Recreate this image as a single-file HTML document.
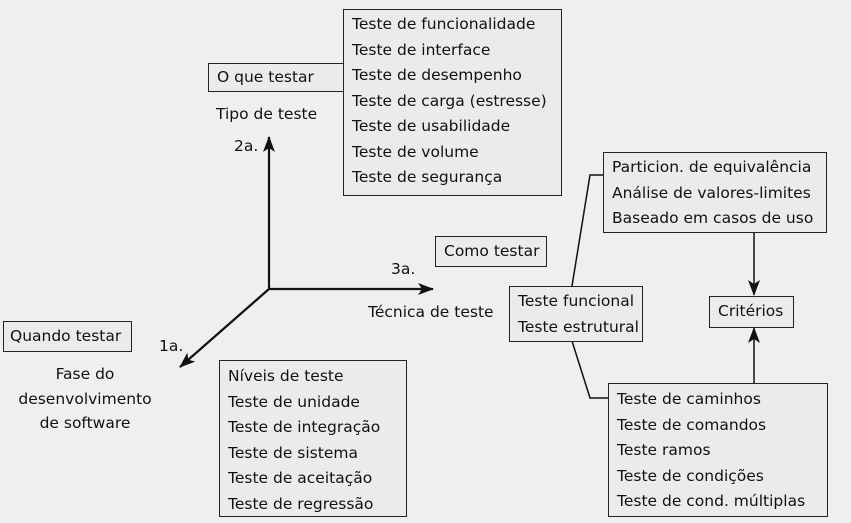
<!DOCTYPE html>
<html><head><meta charset="utf-8"><style>
body{margin:0;width:851px;height:523px;background:#efefef;overflow:hidden;position:relative;font-family:"DejaVu Sans","Liberation Sans",sans-serif;font-size:15.5px;color:#111}
.b{position:absolute;border:1.5px solid #222;background:#ebebeb;box-sizing:border-box;padding:0 0 0 8px;line-height:25.5px;white-space:nowrap}
.t{position:absolute;white-space:nowrap;line-height:24.5px}
</style></head><body>
<svg width="851" height="523" style="position:absolute;left:0;top:0">
<defs><marker id="a" markerWidth="16" markerHeight="12" refX="15" refY="6" orient="auto" markerUnits="userSpaceOnUse"><path d="M0,0 L16,6 L0,12 L4,6 Z" fill="#111"/></marker></defs>
<g stroke="#111" stroke-width="2.2" fill="none">
<line x1="269" y1="289" x2="269" y2="137" marker-end="url(#a)"/>
<line x1="269" y1="289" x2="433" y2="289" marker-end="url(#a)"/>
<line x1="269" y1="289" x2="180" y2="367" marker-end="url(#a)"/>
</g>
<g stroke="#111" stroke-width="1.5" fill="none">
<polyline points="572,286 590,175 603,175"/>
<polyline points="572,341 590,398 608,398"/>
<line x1="754" y1="232" x2="754" y2="295" marker-end="url(#a)"/>
<line x1="754" y1="383" x2="754" y2="328" marker-end="url(#a)"/>
</g>
</svg>
<div class="b" style="left:343px;top:9px;width:219px;height:187px;padding-top:2px">Teste de funcionalidade<br>Teste de interface<br>Teste de desempenho<br>Teste de carga (estresse)<br>Teste de usabilidade<br>Teste de volume<br>Teste de segurança</div>
<div class="b" style="left:208px;top:63px;width:136px;height:29px;line-height:26px">O que testar</div>
<div class="t" style="left:216px;top:102px">Tipo de teste</div>
<div class="t" style="left:234px;top:134px">2a.</div>
<div class="t" style="left:391px;top:257px">3a.</div>
<div class="t" style="left:368px;top:300px">Técnica de teste</div>
<div class="b" style="left:435px;top:236px;width:112px;height:31px;line-height:28px">Como testar</div>
<div class="t" style="left:159px;top:334px">1a.</div>
<div class="b" style="left:3px;top:321px;width:129px;height:31px;line-height:28px;padding-left:6px">Quando testar</div>
<div class="t" style="left:10px;top:362px;width:150px;text-align:center">Fase do<br>desenvolvimento<br>de software</div>
<div class="b" style="left:219px;top:360px;width:188px;height:157px;padding-top:3px">Níveis de teste<br>Teste de unidade<br>Teste de integração<br>Teste de sistema<br>Teste de aceitação<br>Teste de regressão</div>
<div class="b" style="left:509px;top:286px;width:134px;height:56px;padding-top:2px">Teste funcional<br>Teste estrutural</div>
<div class="b" style="left:603px;top:152px;width:224px;height:81px;padding-top:2px">Particion. de equivalência<br>Análise de valores-limites<br>Baseado em casos de uso</div>
<div class="b" style="left:709px;top:296px;width:85px;height:32px;line-height:29px">Critérios</div>
<div class="b" style="left:608px;top:383px;width:220px;height:134px;padding-top:3px">Teste de caminhos<br>Teste de comandos<br>Teste ramos<br>Teste de condições<br>Teste de cond. múltiplas</div>
</body></html>
